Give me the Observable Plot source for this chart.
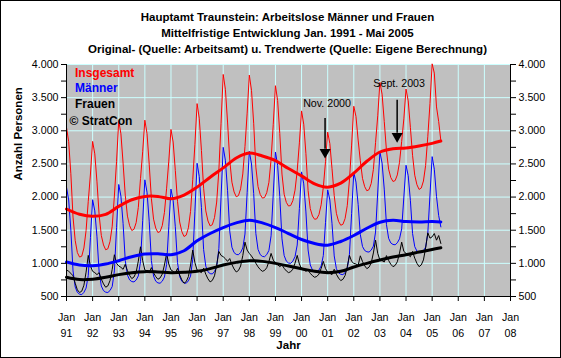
<!DOCTYPE html>
<html><head><meta charset="utf-8">
<script src="https://cdn.jsdelivr.net/npm/d3@7"></script>
<script src="https://cdn.jsdelivr.net/npm/@observablehq/plot@0.6"></script>
<style>
body{margin:0;background:#fff;}
#wrap{position:relative;width:561px;height:358px;background:#fff;font-family:"Liberation Sans",Arial,sans-serif;overflow:hidden;}
#title{position:absolute;left:7px;top:9px;width:561px;text-align:center;font-weight:bold;font-size:11.5px;line-height:16px;color:#000;z-index:2;}
#border{position:absolute;left:0;top:0;width:561px;height:358px;box-sizing:border-box;border:1px solid #000;pointer-events:none;z-index:3;}
#wrap svg{position:absolute;left:0;top:0;}
</style></head><body>
<div id="wrap">
<div id="title">Hauptamt Traunstein: Arbeitslose Männer und Frauen<br>Mittelfristige Entwicklung Jan. 1991 - Mai 2005<br>Original- (Quelle: Arbeitsamt) u. Trendwerte (Quelle: Eigene Berechnung)</div>
<div id="border"></div>
</div>
<script>
// Monthly original values, Jan 1991 – May 2005
const insgesamt = [
 3050,2836,2352,1698,1343,1162,1095,1108,1232,1495,1936,2348,
 2840,2652,2230,1728,1420,1278,1205,1220,1330,1560,2016,2538,
 3150,2954,2512,2029,1713,1568,1495,1514,1614,1844,2278,2684,
 3160,2958,2496,1979,1667,1531,1465,1480,1569,1769,2134,2542,
 3020,2830,2402,1937,1624,1478,1405,1425,1536,1783,2262,2796,
 3410,3190,2702,2134,1792,1639,1565,1583,1690,1925,2402,3106,
 3850,3626,3132,2558,2225,2077,2005,2022,2124,2349,2762,3266,
 3840,3609,3114,2451,2159,2039,1985,1993,2066,2223,2566,3098,
 3680,3458,2958,2347,2043,1920,1865,1873,1946,2104,2396,2818,
 3300,3099,2656,2100,1826,1714,1665,1672,1738,1883,2148,2534,
 2980,2806,2428,2023,1755,1634,1575,1589,1676,1870,2258,2784,
 3370,3216,2860,2548,2282,2157,2095,2112,2206,2417,2822,3226,
 3730,3552,3140,2705,2421,2295,2235,2249,2334,2524,2840,3180,
 3630,3452,3052,2630,2330,2187,2115,2136,2242,2476,2910,3410,
 4010,3870,3360,3140,2850
];
const maenner = [
 2150,1956,1502,886,643,562,535,528,562,627,816,1388,
 1960,1792,1400,868,658,588,565,560,590,650,886,1538,
 2190,2014,1602,1043,823,750,725,720,748,810,1028,1644,
 2260,2073,1636,1043,809,731,705,700,731,794,984,1552,
 2120,1950,1552,1012,799,728,705,700,736,808,1062,1786,
 2510,2310,1842,1207,957,873,845,840,878,952,1222,1986,
 2750,2556,2102,1486,1243,1162,1135,1130,1164,1232,1442,2066,
 2690,2499,2054,1450,1211,1132,1105,1100,1132,1195,1416,2048,
 2680,2478,2008,1370,1118,1034,1005,1000,1034,1101,1276,1828,
 2380,2199,1776,1202,976,900,875,870,900,961,1118,1614,
 2110,1956,1598,1112,920,856,835,830,860,921,1138,1754,
 2370,2226,1890,1434,1254,1194,1175,1170,1200,1260,1472,2076,
 2680,2512,2120,1588,1378,1308,1285,1280,1310,1370,1520,2000,
 2480,2322,1952,1450,1252,1186,1165,1160,1190,1245,1450,2030,
 2610,2420,2010,1720,1550
];
const frauen = [
 900,880,850,812,700,600,560,580,670,868,1120,960,
 880,860,830,860,762,690,640,660,740,910,1130,1000,
 960,940,910,986,890,818,770,794,866,1034,1250,1040,
 900,885,860,936,858,800,760,780,838,975,1150,990,
 900,880,850,925,825,750,700,725,800,975,1200,1010,
 900,880,860,927,835,766,720,743,812,973,1180,1120,
 1100,1070,1030,1072,982,915,870,892,960,1117,1320,1200,
 1150,1110,1060,1001,948,907,880,893,934,1028,1150,1050,
 1000,980,950,977,925,886,860,873,912,1003,1120,990,
 920,900,880,898,850,814,790,802,838,922,1030,920,
 870,850,830,911,835,778,740,759,816,949,1120,1030,
 1000,990,970,1114,1028,963,920,942,1006,1157,1350,1150,
 1050,1040,1020,1117,1043,987,950,969,1024,1154,1320,1180,
 1150,1130,1100,1180,1078,1001,950,976,1052,1231,1460,1380,
 1400,1450,1350,1420,1300
];
// Trend values (half-yearly readings)
const trendZeit = [1991,1991.5,1992,1992.5,1993,1993.5,1994,1994.5,1995,1995.5,1996,1996.5,1997,1997.5,1998,1998.5,1999,1999.5,2000,2000.5,2001,2001.5,2002,2002.5,2003,2003.5,2004,2004.5,2005,2005.333];
const trendInsgesamt = [1820,1740,1710,1740,1860,1960,2010,2010,1975,2030,2150,2300,2440,2590,2665,2620,2550,2430,2320,2200,2150,2210,2360,2540,2680,2730,2740,2770,2810,2845];
const trendMaenner = [1020,975,965,990,1040,1100,1140,1145,1130,1190,1340,1450,1540,1610,1650,1610,1540,1450,1360,1300,1275,1330,1420,1530,1620,1650,1630,1625,1630,1625];
const trendFrauen = [790,755,760,790,830,860,875,870,860,865,880,920,975,1015,1040,1030,1000,960,920,880,860,880,945,1000,1050,1095,1130,1170,1210,1235];

const jahre = d3.range(1991, 2009);
const jahrLabels = ["91","92","93","94","95","96","97","98","99","00","01","02","03","04","05","06","07","08"];
const yTickWerte = d3.range(500, 4001, 250);
const yLabelWerte = [500,1000,1500,2000,2500,3000,3500,4000];
const yLabels = ["500","1.000","1.500","2.000","2.500","3.000","3.500","4.000"];

const legende = [
  {text: "Insgesamt", farbe: "#ff0000", dy: 8.5},
  {text: "Männer", farbe: "#0000ff", dy: 23.8},
  {text: "Frauen", farbe: "#000000", dy: 39.3}
];
const hinweise = [
  {label: "Nov. 2000", zeit: 2000.9, textWert: 3414, oben: 3184, basis: 2723, spitze: 2677},
  {label: "Sept. 2003", zeit: 2003.66, textWert: 3715, oben: 3459, basis: 2964, spitze: 2917}
];

const monate = d3.range(insgesamt.length).map(i => 1991 + i / 12);
const yFmt = d => { const i = yLabelWerte.indexOf(d); return i < 0 ? "" : yLabels[i]; };
const xFmt = d => "Jan\n" + jahrLabels[jahre.indexOf(d)];

const chart = Plot.plot({
  width: 561, height: 358,
  marginLeft: 66, marginRight: 51, marginTop: 64, marginBottom: 62,
  style: {fontFamily: '"Liberation Sans", Arial, sans-serif', fontSize: "10.67px", background: "transparent", color: "#000"},
  x: {domain: [1991, 2008], axis: null},
  y: {domain: [500, 4000], axis: null},
  marks: [
    Plot.frame({fill: "#c0c0c0", stroke: "none"}),
    Plot.gridY(yLabelWerte, {stroke: "#ccffff", strokeOpacity: 1}),
    Plot.gridX(jahre, {stroke: "#ccffff", strokeOpacity: 1}),
    Plot.line(insgesamt, {x: (d, i) => monate[i], y: d => d, stroke: "#ff0000", strokeWidth: 1}),
    Plot.line(maenner, {x: (d, i) => monate[i], y: d => d, stroke: "#0000ff", strokeWidth: 1}),
    Plot.line(frauen, {x: (d, i) => monate[i], y: d => d, stroke: "#000000", strokeWidth: 1}),
    Plot.line(trendInsgesamt, {x: (d, i) => trendZeit[i], y: d => d, stroke: "#ff0000", strokeWidth: 3, curve: "catmull-rom"}),
    Plot.line(trendMaenner, {x: (d, i) => trendZeit[i], y: d => d, stroke: "#0000ff", strokeWidth: 3, curve: "catmull-rom"}),
    Plot.line(trendFrauen, {x: (d, i) => trendZeit[i], y: d => d, stroke: "#000000", strokeWidth: 3, curve: "catmull-rom"}),
    Plot.ruleX([1991, 2008], {stroke: "#000", strokeWidth: 1}),
    Plot.ruleY([500], {stroke: "#000", strokeWidth: 1}),
    Plot.axisY(yTickWerte, {anchor: "left", tickSize: 5, tickPadding: 3, tickFormat: yFmt, label: null, fontSize: "10.67px"}),
    Plot.axisY(yTickWerte, {anchor: "right", tickSize: 5, tickPadding: 3, tickFormat: yFmt, label: null, fontSize: "10.67px"}),
    Plot.axisX(jahre, {anchor: "bottom", tickSize: 5, tickPadding: 9, tickFormat: xFmt, label: null, lineHeight: 1.45, fontSize: "10.67px"}),
    Plot.text(["Anzahl Personen"], {frameAnchor: "left", rotate: -90, dx: -48, fontWeight: "bold", fontSize: 11.5}),
    Plot.text(["Jahr"], {frameAnchor: "bottom", lineAnchor: "middle", dy: 49, fontWeight: "bold", fontSize: 11.5}),
    ...legende.map(l => Plot.text([l], {text: "text", fill: d => d.farbe, frameAnchor: "top-left", textAnchor: "start", lineAnchor: "middle", dx: 8.5, dy: l.dy, fontWeight: "bold", fontSize: 12})),
    Plot.text(["© StratCon"], {frameAnchor: "top-left", textAnchor: "start", lineAnchor: "middle", dx: 3, dy: 57, fontWeight: "bold", fontSize: 12}),
    Plot.ruleX(hinweise, {x: "zeit", y1: "oben", y2: "basis", stroke: "#000", strokeWidth: 1.5}),
    Plot.dot(hinweise, {x: "zeit", y: "spitze", symbol: "triangle", rotate: 180, r: 4.1, fill: "#000", stroke: "none"}),
    Plot.text(hinweise, {x: "zeit", y: "textWert", text: "label", dx: 2, fontSize: "10.67px"})
  ]
});
document.getElementById("wrap").appendChild(chart);
</script>
</body></html>
